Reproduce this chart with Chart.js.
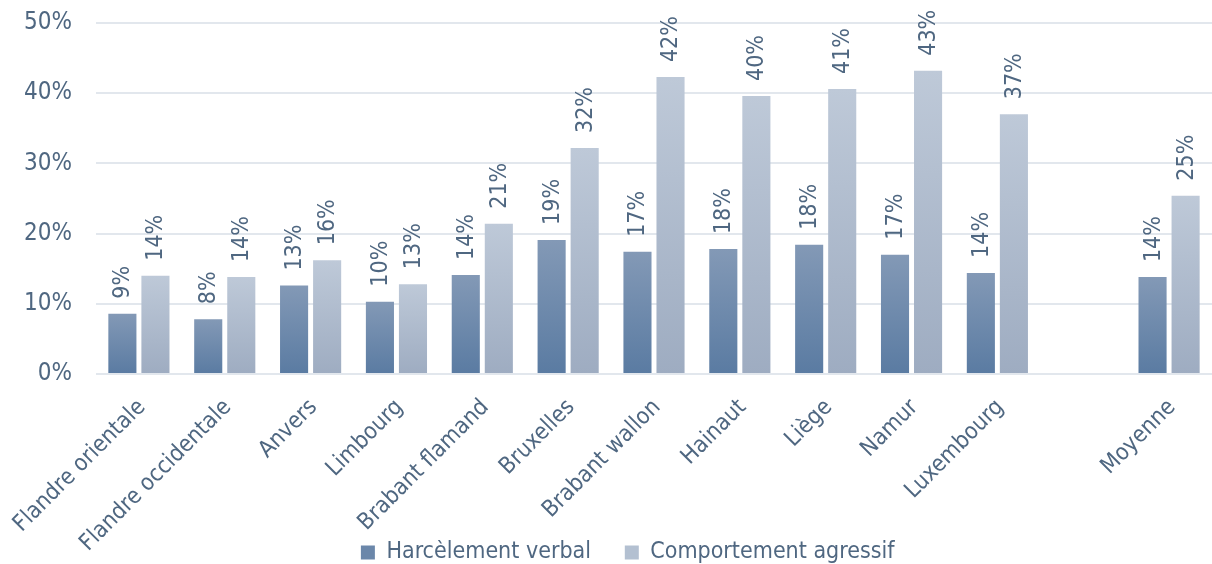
<!DOCTYPE html>
<html>
<head>
<meta charset="utf-8">
<script src="https://cdn.jsdelivr.net/npm/chart.js@4/dist/chart.umd.min.js"></script>
<style>
  html, body { margin: 0; padding: 0; background: #fff; }
  #wrap { width: 1212px; height: 564px; }
</style>
</head>
<body>
<div id="wrap"><canvas id="chart"></canvas></div>
<script>
const provinces = [
  'Flandre orientale', 'Flandre occidentale', 'Anvers', 'Limbourg', 'Brabant flamand',
  'Bruxelles', 'Brabant wallon', 'Hainaut', 'Liège', 'Namur', 'Luxembourg', '', 'Moyenne'
];
const verbal = [8.6, 7.8, 12.6, 10.3, 14.1, 19.1, 17.4, 17.8, 18.4, 17.0, 14.4, null, 13.8];
const agressif = [14.0, 13.8, 16.2, 12.8, 21.4, 32.2, 42.3, 39.6, 40.6, 43.2, 37.0, null, 25.4];
const yTicks = [0, 10, 20, 30, 40, 50];

const textColor = '#4f6781';
const font = '"DejaVu Sans Condensed", "DejaVu Sans", sans-serif';

// vertical gradient on each bar, light at the top, darker at the base
function barGradient(top, bottom) {
  return (ctx) => {
    const chart = ctx.chart;
    if (!chart.chartArea || ctx.parsed == null || ctx.parsed.y == null) return bottom;
    const y = chart.scales.y;
    const y0 = y.getPixelForValue(ctx.parsed.y);
    const y1 = y.getPixelForValue(0);
    const g = chart.ctx.createLinearGradient(0, y0, 0, y1);
    g.addColorStop(0, top);
    g.addColorStop(1, bottom);
    return g;
  };
}

// rotated value labels above the bars
const valueLabels = {
  id: 'valueLabels',
  afterDatasetsDraw(chart) {
    const ctx = chart.ctx;
    ctx.save();
    ctx.fillStyle = textColor;
    ctx.font = '23px ' + font;
    ctx.textAlign = 'left';
    ctx.textBaseline = 'middle';
    chart.data.datasets.forEach((ds, i) => {
      chart.getDatasetMeta(i).data.forEach((bar, j) => {
        const v = ds.data[j];
        if (v == null) return;
        ctx.save();
        ctx.translate(bar.x, bar.y - 15);
        ctx.rotate(-Math.PI / 2);
        ctx.fillText(Math.round(v) + '%', 0, 1);
        ctx.restore();
      });
    });
    ctx.restore();
  }
};

new Chart(document.getElementById('chart'), {
  type: 'bar',
  data: {
    labels: provinces,
    datasets: [
      {
        label: 'Harcèlement verbal',
        data: verbal,
        backgroundColor: barGradient('#8399b6', '#5a7ba2'),
        legendColor: '#6b87aa',
        legendPad: '     ',
      },
      {
        label: 'Comportement agressif',
        data: agressif,
        backgroundColor: barGradient('#bec9d8', '#9eacc1'),
        legendColor: '#b3c0d1',
        legendPad: '        ',
      },
    ],
  },
  options: {
    responsive: true,
    maintainAspectRatio: false,
    animation: false,
    datasets: {
      bar: { categoryPercentage: 0.77, barPercentage: 0.85 },
    },
    layout: {
      // legend sits partly below the canvas edge
      padding: { top: 23, bottom: -10, left: 0, right: 0 },
    },
    scales: {
      x: {
        grid: { display: false },
        border: { display: false },
        ticks: {
          color: textColor,
          font: { family: font, size: 23 },
          maxRotation: 45,
          minRotation: 45,
          autoSkip: false,
          padding: 12,
          labelOffset: 3,
        },
        afterFit: (axis) => {
          axis.height = 166;
          axis.paddingLeft = 0;
          axis.paddingRight = 0;
          // long province names run down past the axis box, beside the legend
          axis._computeLabelArea = () => undefined;
        },
      },
      y: {
        min: 0,
        max: 50,
        afterBuildTicks: (axis) => {
          axis.ticks = yTicks.map((v) => ({ value: v }));
        },
        afterFit: (axis) => {
          axis.paddingTop = 0;
          axis.paddingBottom = 0;
        },
        grid: { color: '#e2e7ed', lineWidth: 2, drawTicks: false },
        border: { display: false },
        ticks: {
          color: textColor,
          font: { family: font, size: 24 },
          padding: 24,
          callback: (v) => v + '%',
        },
      },
    },
    plugins: {
      legend: {
        position: 'bottom',
        fullSize: false,
        labels: {
          color: textColor,
          font: { family: font, size: 23 },
          boxWidth: 14,
          boxHeight: 14,
          padding: 1,
          generateLabels: (chart) =>
            chart.data.datasets.map((ds, i) => ({
              text: ds.label + ds.legendPad,
              fillStyle: ds.legendColor,
              strokeStyle: ds.legendColor,
              lineWidth: 0,
              fontColor: textColor,
              datasetIndex: i,
            })),
        },
      },
      tooltip: { enabled: false },
    },
  },
  plugins: [valueLabels],
});
</script>
</body>
</html>
